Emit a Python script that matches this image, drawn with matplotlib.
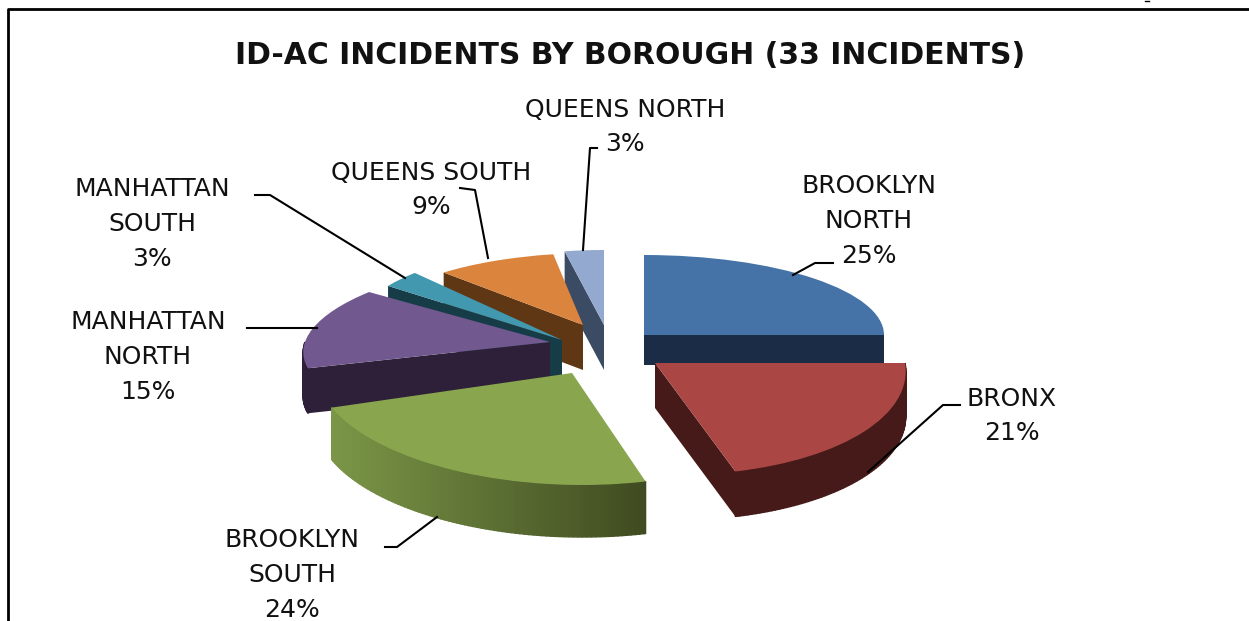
import numpy as np
import matplotlib
matplotlib.use("Agg")
import matplotlib.pyplot as plt
from matplotlib.colors import to_rgb
from matplotlib.transforms import Affine2D

W, H = 1249, 621

# data
boroughs = ["BROOKLYN\nNORTH", "BRONX", "BROOKLYN\nSOUTH", "MANHATTAN\nNORTH",
            "MANHATTAN\nSOUTH", "QUEENS SOUTH", "QUEENS NORTH"]
shares = [25, 21, 24, 15, 3, 9, 3]
title = "ID-AC INCIDENTS BY BOROUGH (33 INCIDENTS)"

# look of each slice, same order as the data
top_colors = ["#4572A7", "#AA4643", "#89A54E", "#71588F", "#4198AF", "#DB843D", "#93A9CF"]
side_colors = ["#1B2D46", "#451A18", "#3F4A20", "#2D2038", "#163C48", "#5F3714", "#3C4B64"]
apex = [(644, 335), (655, 363), (572, 373), (550, 342), (562, 340), (583, 325), (604, 325)]
rx = [240, 250, 256, 245, 215, 215, 210]
ry = [80, 112, 112, 85, 92, 72, 75]
lean = [0, -0.075, -0.04, 0.12, 0, 0.05, 0]
depth = [30, 45, 52, 45, 45, 45, 45]
draw_order = [0, 6, 5, 4, 3, 1, 2]

# label centre and leader line, in pixels from the top left
label_xy = [(869, 221), (1012, 416), (292, 575), (148, 357), (152, 224), (431, 190), (625, 127)]
leaders = [
    [(833, 263), (815, 263), (793, 275)],
    [(960, 405), (943, 405), (868, 472)],
    [(385, 547), (397, 547), (437, 517)],
    [(247, 328), (317, 328)],
    [(255, 195), (270, 195), (405, 278)],
    [(460, 188), (475, 190), (488, 258)],
    [(597, 148), (590, 148), (583, 250)],
]


def fy(y):
    return H - y


fig = plt.figure(figsize=(W / 100, H / 100), dpi=100)
ax = fig.add_axes([0, 0, 1, 1])
plt.rcParams["font.family"] = ["DejaVu Sans"]

wedges, _ = ax.pie(shares, startangle=90, counterclock=False, colors=top_colors, radius=1, frame=False)
ax.set_aspect("auto")
ax.set_xlim(0, W)
ax.set_ylim(0, H)
ax.axis("off")

for z, i in enumerate(draw_order):
    wedge = wedges[i]
    ax0, ay0 = apex[i][0], fy(apex[i][1])
    m = Affine2D.from_values(rx[i], 0, lean[i] * rx[i], ry[i], ax0, ay0)
    wedge.set_transform(m + ax.transData)
    wedge.set_zorder(z * 3 + 2)
    wedge.set_linewidth(0)
    t1, t2 = wedge.theta1, wedge.theta2

    def px(ang):
        r = np.radians(ang)
        return ax0 + rx[i] * (np.cos(r) + lean[i] * np.sin(r))

    def py(ang):
        return ay0 + ry[i] * np.sin(np.radians(ang))

    # radial wall, only the one that faces the viewer
    for t, show in ((t1, np.cos(np.radians(t1)) > 0), (t2, np.cos(np.radians(t2)) < 0)):
        if show:
            ex, ey = px(t), py(t)
            ax.fill([ax0, ex, ex, ax0], [ay0, ey, ey - depth[i], ay0 - depth[i]],
                    color=side_colors[i], lw=0, zorder=z * 3)

    # outer rim, lower half of the ellipse only
    steps = np.append(np.arange(t1, t2, 1.0), t2)
    for a, b in zip(steps[:-1], steps[1:]):
        if np.sin(np.radians((a + b) / 2)) >= 0:
            continue
        xs = px(np.array([a, b]))
        ys = py(np.array([a, b]))
        col = side_colors[i]
        if i == 2:
            # green rim goes from light on the left to dark on the right
            frac = (xs.mean() - (ax0 - rx[i])) / (2 * rx[i] * 0.65)
            frac = min(max(frac, 0), 1)
            c0 = np.array(to_rgb("#7E9A49"))
            c1 = np.array(to_rgb(side_colors[2]))
            col = tuple(c0 + (c1 - c0) * frac)
        ax.fill([xs[0], xs[1], xs[1], xs[0]], [ys[0], ys[1], ys[1] - depth[i], ys[0] - depth[i]],
                color=col, lw=1, zorder=z * 3 + 1)

for name, val, (lx, ly) in zip(boroughs, shares, label_xy):
    ax.text(lx, fy(ly), f"{name}\n{val}%", ha="center", va="center", fontsize=18,
            color="#111111", linespacing=1.57, zorder=40)

for pts in leaders:
    ax.plot([p[0] for p in pts], [fy(p[1]) for p in pts], color="black", lw=1.5, zorder=30)

ax.text(630, fy(56), title, ha="center", va="center", fontsize=21.5, fontweight="bold",
        color="#111111", zorder=40)

# chart border: only top and left show in the crop
ax.plot([8, 8, W], [0, fy(9), fy(9)], color="black", lw=2, zorder=50, clip_on=False)
ax.plot([1145, 1149], [fy(0.5), fy(0.5)], color="black", lw=1, zorder=50)

fig.savefig("out.png", dpi=100, facecolor="white")
